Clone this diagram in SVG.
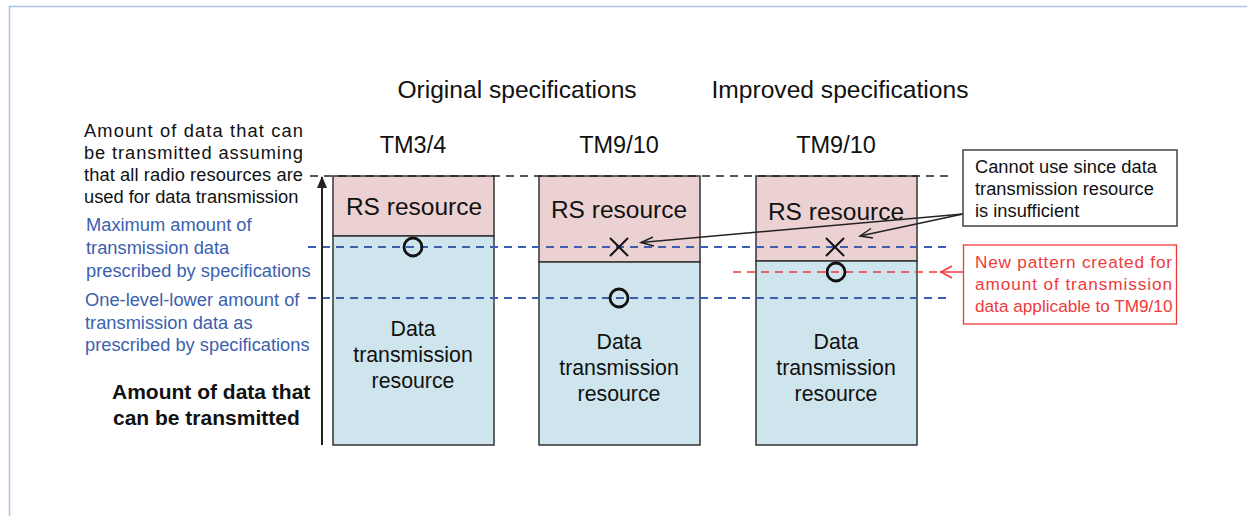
<svg xmlns="http://www.w3.org/2000/svg" width="1247" height="516" viewBox="0 0 1247 516">
  <style>
    text { font-family: "Liberation Sans", Arial, sans-serif; fill: #111; }
    .title { font-size: 24.6px; text-anchor: middle; }
    .tm { font-size: 23.5px; text-anchor: middle; }
    .rs { font-size: 24.5px; text-anchor: middle; }
    .data { font-size: 21.3px; text-anchor: middle; }
    .note { font-size: 18.3px; }
    .blue { fill: #3b5fae; }
    .red { fill: #f03a3a; font-size: 17.2px; }
    .bold { font-size: 21px; font-weight: bold; }
    .rsbox { fill: #ebd1d1; stroke: #333; stroke-width: 1.5; }
    .databox { fill: #cfe5ed; stroke: #333; stroke-width: 1.5; }
    .dash-k { stroke: #222; stroke-width: 1.5; stroke-dasharray: 8 6; fill: none; }
    .dash-b { stroke: #3b5fae; stroke-width: 1.8; stroke-dasharray: 8 6; fill: none; }
    .dash-r { stroke: #f03a3a; stroke-width: 1.5; stroke-dasharray: 8 6; fill: none; }
    .ok { fill: none; stroke: #111; stroke-width: 2.8; }
    .ng { stroke: #111; stroke-width: 2; }
  </style>
  <defs>
    <marker id="solidK" markerWidth="12" markerHeight="12" refX="11" refY="6" orient="auto" markerUnits="userSpaceOnUse">
      <path d="M0,1 L12,6 L0,11 Z" fill="#222"/>
    </marker>
  </defs>

  <!-- page frame -->
  <g id="frame" stroke="#a9c4e8" stroke-width="1.5" fill="none">
    <path d="M9.5,516 L9.5,6.5 L1247,6.5"/>
  </g>

  <!-- headings -->
  <g id="headings">
    <text class="title" x="517" y="98">Original specifications</text>
    <text class="title" x="840" y="98">Improved specifications</text>
    <text class="tm" x="413" y="153">TM3/4</text>
    <text class="tm" x="619" y="153">TM9/10</text>
    <text class="tm" x="836" y="153">TM9/10</text>
  </g>

  <!-- column: TM3/4 original -->
  <g id="col-tm34">
    <rect class="rsbox" x="333" y="176" width="161" height="60"/>
    <rect class="databox" x="333" y="236" width="161" height="209"/>
    <text class="rs" x="414" y="215">RS resource</text>
    <text class="data" x="413" y="336">Data</text>
    <text class="data" x="413" y="362">transmission</text>
    <text class="data" x="413" y="388">resource</text>
  </g>

  <!-- column: TM9/10 original -->
  <g id="col-tm910-orig">
    <rect class="rsbox" x="539" y="176" width="161" height="86"/>
    <rect class="databox" x="539" y="262" width="161" height="183"/>
    <text class="rs" x="619" y="218">RS resource</text>
    <text class="data" x="619" y="349">Data</text>
    <text class="data" x="619" y="375">transmission</text>
    <text class="data" x="619" y="401">resource</text>
  </g>

  <!-- column: TM9/10 improved -->
  <g id="col-tm910-new">
    <rect class="rsbox" x="756" y="176" width="161" height="85"/>
    <rect class="databox" x="756" y="261" width="161" height="184"/>
    <text class="rs" x="836" y="220">RS resource</text>
    <text class="data" x="836" y="349">Data</text>
    <text class="data" x="836" y="375">transmission</text>
    <text class="data" x="836" y="401">resource</text>
  </g>

  <!-- level lines, axis and arrows -->
  <g id="connectors">
    <line class="dash-k" x1="310" y1="176" x2="950" y2="176"/>
    <line class="dash-b" x1="308" y1="247" x2="950" y2="247"/>
    <line class="dash-b" x1="308" y1="298" x2="950" y2="298"/>
    <line class="dash-r" x1="733" y1="272" x2="940" y2="272"/>
    <line x1="322" y1="445" x2="322" y2="177" stroke="#222" stroke-width="2" marker-end="url(#solidK)"/>
    <line x1="963" y1="214" x2="641" y2="242.5" stroke="#222" stroke-width="1.5"/>
    <line x1="963" y1="214" x2="860" y2="236" stroke="#222" stroke-width="1.5"/>
    <line x1="963" y1="272" x2="940" y2="272" stroke="#f03a3a" stroke-width="1.5"/>
  </g>

  <!-- open arrowheads at the line tips -->
  <g id="arrowheads" fill="none" stroke-width="1.5">
    <path d="M653,237 L641,242.5 L654,246" stroke="#222"/>
    <path d="M871,228.5 L860,236 L873,238" stroke="#222"/>
    <path d="M952,266 L941,272 L952,278" stroke="#f03a3a"/>
  </g>

  <!-- usable / unusable marks -->
  <g id="marks">
    <circle class="ok" cx="413" cy="247" r="9"/>
    <circle class="ok" cx="619" cy="298" r="9"/>
    <circle class="ok" cx="836" cy="272" r="9"/>
    <path class="ng" d="M610,238 L628,256 M628,238 L610,256"/>
    <path class="ng" d="M826,238 L844,256 M844,238 L826,256"/>
  </g>

  <!-- left-hand labels -->
  <g id="label-capacity">
    <text class="note" x="84" y="137" textLength="219" lengthAdjust="spacing">Amount of data that can</text>
    <text class="note" x="84" y="159" textLength="219" lengthAdjust="spacing">be transmitted assuming</text>
    <text class="note" x="84" y="181" textLength="219" lengthAdjust="spacing">that all radio resources are</text>
    <text class="note" x="84" y="203">used for data transmission</text>
  </g>
  <g id="label-max">
    <text class="note blue" x="86" y="231">Maximum amount of</text>
    <text class="note blue" x="86" y="254">transmission data</text>
    <text class="note blue" x="86" y="277">prescribed by specifications</text>
  </g>
  <g id="label-lower">
    <text class="note blue" x="85" y="306">One-level-lower amount of</text>
    <text class="note blue" x="85" y="329">transmission data as</text>
    <text class="note blue" x="85" y="351">prescribed by specifications</text>
  </g>
  <g id="label-axis">
    <text class="bold" x="112" y="399">Amount of data that</text>
    <text class="bold" x="113" y="425">can be transmitted</text>
  </g>

  <!-- callouts -->
  <g id="callout-insufficient">
    <rect x="963" y="150" width="214" height="76" fill="#fff" stroke="#444" stroke-width="1.5"/>
    <text class="note" x="975" y="173">Cannot use since data</text>
    <text class="note" x="975" y="195">transmission resource</text>
    <text class="note" x="975" y="217">is insufficient</text>
  </g>
  <g id="callout-new-pattern">
    <rect x="963.5" y="245" width="213" height="79" fill="#fff" stroke="#f03a3a" stroke-width="1.3"/>
    <text class="note red" x="975" y="268" textLength="197" lengthAdjust="spacing">New pattern created for</text>
    <text class="note red" x="975" y="290" textLength="197" lengthAdjust="spacing">amount of transmission</text>
    <text class="note red" x="975" y="312">data applicable to TM9/10</text>
  </g>
</svg>
